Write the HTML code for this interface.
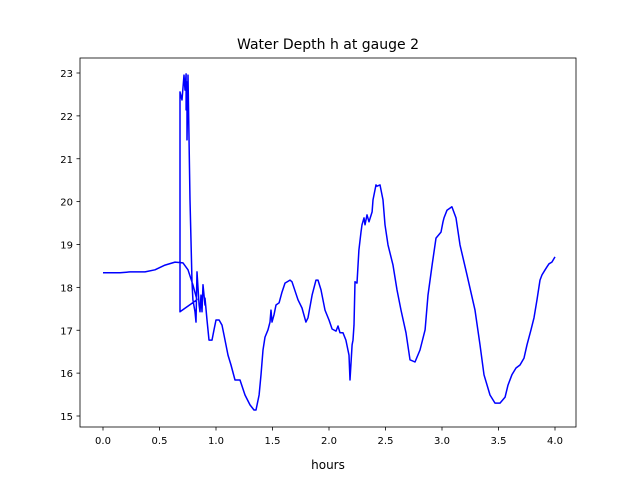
<!DOCTYPE html>
<html><head><meta charset="utf-8"><style>
body{margin:0;background:#fff}
svg{display:block;font-family:"DejaVu Sans","Liberation Sans",sans-serif}
</style></head><body>
<svg id="chart" width="640" height="480">
<rect width="640" height="480" fill="#fff"/>
<text x="328" y="49" font-size="14" text-anchor="middle">Water Depth h at gauge 2</text>
<text x="328" y="469" font-size="12" text-anchor="middle">hours</text>
<g id="axes"></g>
</svg>
<script>
const hours=[0,0.062,0.150,0.239,0.372,0.460,0.549,0.637,0.708,0.752,0.796,0.832,0.681,0.681,0.699,0.717,0.726,0.735,0.735,0.743,0.743,0.752,0.770,0.788,0.796,0.814,0.823,0.832,0.850,0.858,0.867,0.876,0.885,0.903,0.903,0.920,0.938,0.965,0.982,1.000,1.027,1.053,1.071,1.106,1.133,1.168,1.212,1.257,1.301,1.336,1.354,1.381,1.398,1.416,1.434,1.460,1.478,1.487,1.496,1.513,1.531,1.558,1.584,1.611,1.655,1.673,1.726,1.761,1.796,1.814,1.850,1.885,1.903,1.929,1.965,2.000,2.027,2.062,2.080,2.097,2.124,2.150,2.177,2.186,2.204,2.212,2.221,2.230,2.248,2.265,2.283,2.292,2.310,2.319,2.336,2.354,2.381,2.389,2.416,2.425,2.451,2.478,2.496,2.522,2.566,2.602,2.637,2.681,2.717,2.761,2.805,2.850,2.876,2.912,2.947,2.991,3.009,3.018,3.044,3.088,3.124,3.159,3.221,3.292,3.336,3.372,3.425,3.469,3.513,3.558,3.584,3.619,3.655,3.690,3.726,3.752,3.788,3.814,3.841,3.867,3.885,3.912,3.929,3.947,3.973,4.0];
const depth=[18.34,18.34,18.34,18.36,18.36,18.41,18.52,18.59,18.57,18.41,18.06,17.71,17.43,22.56,22.37,22.95,22.60,22.98,22.14,22.79,21.44,22.95,20.04,18.13,17.71,17.43,17.19,18.36,17.59,17.43,17.82,17.43,18.06,17.59,17.75,17.24,16.77,16.77,17.01,17.24,17.24,17.12,16.89,16.42,16.19,15.84,15.84,15.49,15.26,15.14,15.14,15.49,15.96,16.54,16.84,17.01,17.19,17.47,17.19,17.36,17.59,17.64,17.89,18.10,18.17,18.13,17.71,17.52,17.19,17.29,17.82,18.17,18.17,17.94,17.47,17.24,17.03,16.98,17.10,16.94,16.94,16.77,16.42,15.84,16.66,16.77,17.12,18.13,18.10,18.87,19.29,19.46,19.62,19.46,19.69,19.53,19.76,20.04,20.39,20.36,20.39,20.04,19.46,18.99,18.52,17.94,17.47,16.94,16.31,16.26,16.54,17.01,17.82,18.52,19.15,19.29,19.53,19.62,19.80,19.88,19.62,18.99,18.29,17.47,16.66,15.96,15.49,15.30,15.30,15.44,15.72,15.96,16.12,16.19,16.35,16.66,17.01,17.29,17.71,18.17,18.29,18.41,18.48,18.55,18.59,18.71,18.80,18.83];
const xTicks=[0.0,0.5,1.0,1.5,2.0,2.5,3.0,3.5,4.0];
const yTicks=[15,16,17,18,19,20,21,22,23];
const L=80,R=576,T=58,B=427;
const xs=h=>103+h*113;
const ys=v=>73+(23-v)*42.875;
const ns="http://www.w3.org/2000/svg";
const g=document.getElementById('axes');
function mk(t,a){const e=document.createElementNS(ns,t);for(const k in a)e.setAttribute(k,a[k]);g.appendChild(e);return e;}
let d=hours.map((h,i)=>(i?'L':'M')+xs(h).toFixed(1)+','+ys(depth[i]).toFixed(1)).join('');
const line=mk('path',{d:d,fill:'none',stroke:'#0000ff','stroke-width':1.5,'stroke-linejoin':'round'});


const frame=mk('rect',{x:L,y:T,width:R-L,height:B-T,fill:'none',stroke:'#000','stroke-width':0.8});


xTicks.forEach(t=>{
  const x=xs(t);
  const tk=mk('line',{x1:x,x2:x,y1:B,y2:B+3.5,stroke:'#000','stroke-width':0.8});
  
  
  const tx=mk('text',{x:x,y:B+17,'font-size':10,'text-anchor':'middle'});
  tx.textContent=t.toFixed(1);
  
  
});
yTicks.forEach(t=>{
  const y=ys(t);
  const tk=mk('line',{x1:L-3.5,x2:L,y1:y,y2:y,stroke:'#000','stroke-width':0.8});
  
  
  const tx=mk('text',{x:L-7,y:y+4,'font-size':10,'text-anchor':'end'});
  tx.textContent=t;
  
  
});
</script>
</body></html>
